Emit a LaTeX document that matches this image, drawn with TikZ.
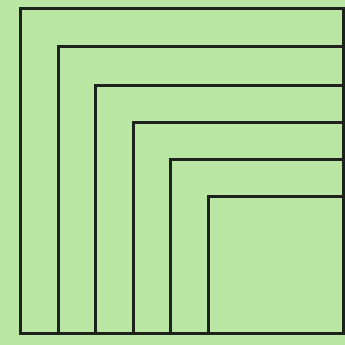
\documentclass[tikz,border=0pt]{standalone}
\usepackage{xcolor}
\usepackage{tikz}
\definecolor{paper}{RGB}{186,230,164}
\definecolor{ink}{RGB}{30,34,28}

\begin{document}
\begin{tikzpicture}[
      x=1pt, y=-1pt,
      frame/.style={draw=ink, line width=3pt}
    ]
      \fill[paper] (0,0) rectangle (345,345);
      \useasboundingbox (0,0) rectangle (345,345);
      \foreach \x/\y in {20/9, 58/47, 95/85, 133/122, 170/159, 208/196}
        \draw[frame] (\x,333) -- (\x,\y) -- (343,\y) -- (343,333) -- cycle;
    \end{tikzpicture}
\end{document}
